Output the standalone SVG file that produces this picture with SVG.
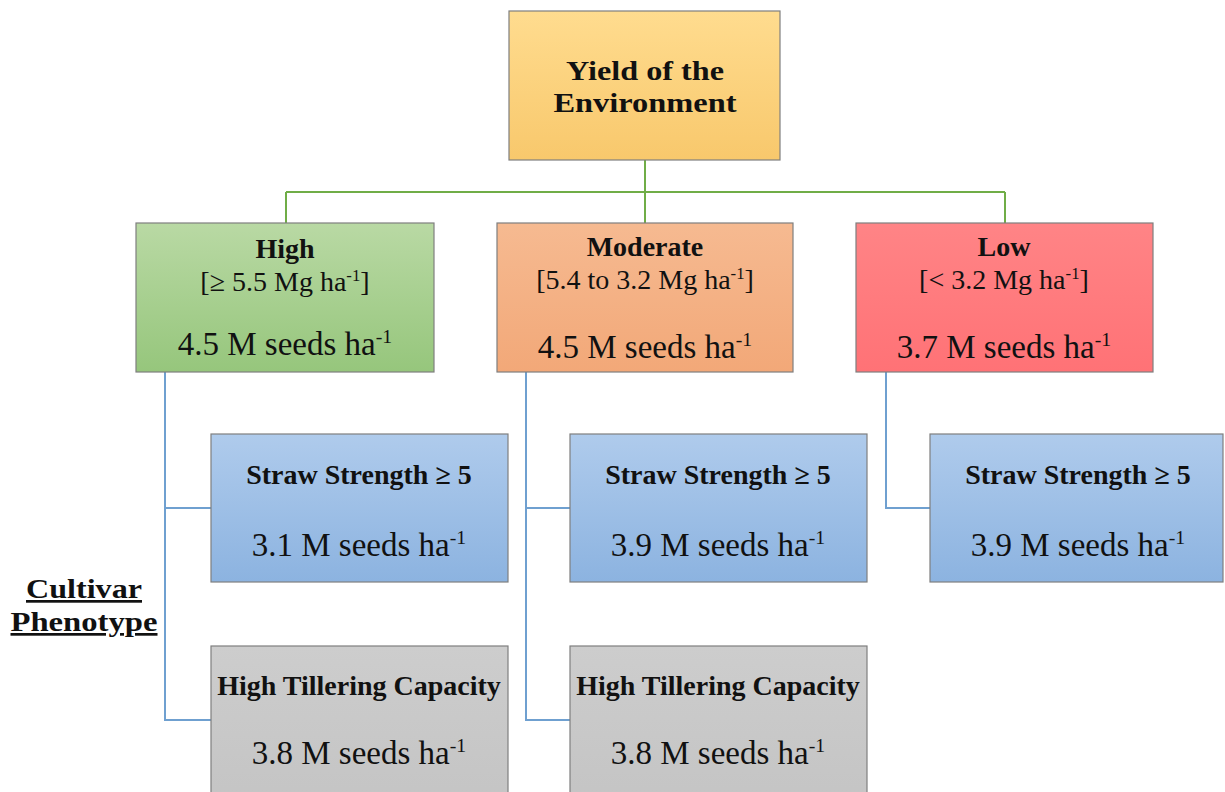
<svg xmlns="http://www.w3.org/2000/svg" width="1225" height="792" viewBox="0 0 1225 792">
<defs>
<linearGradient id="gOr" x1="0" y1="0" x2="0" y2="1"><stop offset="0" stop-color="#FFDC8F"/><stop offset="1" stop-color="#F8C86C"/></linearGradient>
<linearGradient id="gGr" x1="0" y1="0" x2="0" y2="1"><stop offset="0" stop-color="#B9D9A4"/><stop offset="1" stop-color="#96C67C"/></linearGradient>
<linearGradient id="gMo" x1="0" y1="0" x2="0" y2="1"><stop offset="0" stop-color="#F6BA91"/><stop offset="1" stop-color="#F2A878"/></linearGradient>
<linearGradient id="gLo" x1="0" y1="0" x2="0" y2="1"><stop offset="0" stop-color="#FF8486"/><stop offset="1" stop-color="#FF7276"/></linearGradient>
<linearGradient id="gBl" x1="0" y1="0" x2="0" y2="1"><stop offset="0" stop-color="#AFCBEC"/><stop offset="1" stop-color="#8CB3E0"/></linearGradient>
<linearGradient id="gGy" x1="0" y1="0" x2="0" y2="1"><stop offset="0" stop-color="#CDCDCD"/><stop offset="1" stop-color="#C4C4C4"/></linearGradient>
</defs>
<style>
.box{stroke:#7F7F7F;stroke-width:1.2}
.t{font-family:"Liberation Serif","Times New Roman",serif;fill:#111;text-anchor:middle}
.b{font-weight:bold}
.h{font-size:28px;font-weight:bold}
.r{font-size:28px}
.s{font-size:33px}
.gl{stroke:#70AD47;stroke-width:2;fill:none}
.bl{stroke:#6FA0D0;stroke-width:2;fill:none}
.sup{font-size:60%}
</style>
<rect width="1225" height="792" fill="#fff"/>
<g id="connectors">
<path class="gl" d="M645 160V223M286 192H1005M286 192V223M1005 192V223"/>
<path class="bl" d="M165 372V720H211M165 508H211"/>
<path class="bl" d="M526 372V720H570M526 508H570"/>
<path class="bl" d="M886 372V508H930"/>
</g>
<g id="node-yield">
<rect class="box" x="509" y="11" width="271" height="149" fill="url(#gOr)"/>
<text class="t b" x="645" y="80" font-size="28" textLength="158" lengthAdjust="spacingAndGlyphs">Yield of the</text>
<text class="t b" x="645" y="112" font-size="28" textLength="183" lengthAdjust="spacingAndGlyphs">Environment</text>
</g>
<g id="node-high">
<rect class="box" x="136" y="223" width="298" height="149" fill="url(#gGr)"/>
<text class="t h" x="285" y="258">High</text>
<text class="t r" x="285" y="291">[≥ 5.5 Mg ha<tspan class="sup" dy="-10">-1</tspan><tspan dy="10">]</tspan></text>
<text class="t s" x="285" y="355">4.5 M seeds ha<tspan class="sup" dy="-12">-1</tspan></text>
</g>
<g id="node-moderate">
<rect class="box" x="497" y="223" width="296" height="149" fill="url(#gMo)"/>
<text class="t h" x="645" y="256">Moderate</text>
<text class="t r" x="645" y="289">[5.4 to 3.2 Mg ha<tspan class="sup" dy="-10">-1</tspan><tspan dy="10">]</tspan></text>
<text class="t s" x="645" y="358">4.5 M seeds ha<tspan class="sup" dy="-12">-1</tspan></text>
</g>
<g id="node-low">
<rect class="box" x="856" y="223" width="297" height="149" fill="url(#gLo)"/>
<text class="t h" x="1004" y="256">Low</text>
<text class="t r" x="1004" y="289">[&lt; 3.2 Mg ha<tspan class="sup" dy="-10">-1</tspan><tspan dy="10">]</tspan></text>
<text class="t s" x="1004" y="358">3.7 M seeds ha<tspan class="sup" dy="-12">-1</tspan></text>
</g>
<g id="node-high-straw">
<rect class="box" x="211" y="434" width="297" height="148" fill="url(#gBl)"/>
<text class="t h" x="359" y="484">Straw Strength ≥ 5</text>
<text class="t s" x="359" y="556">3.1 M seeds ha<tspan class="sup" dy="-12">-1</tspan></text>
</g>
<g id="node-mod-straw">
<rect class="box" x="570" y="434" width="297" height="148" fill="url(#gBl)"/>
<text class="t h" x="718" y="484">Straw Strength ≥ 5</text>
<text class="t s" x="718" y="556">3.9 M seeds ha<tspan class="sup" dy="-12">-1</tspan></text>
</g>
<g id="node-low-straw">
<rect class="box" x="930" y="434" width="293" height="148" fill="url(#gBl)"/>
<text class="t h" x="1078" y="484">Straw Strength ≥ 5</text>
<text class="t s" x="1078" y="556">3.9 M seeds ha<tspan class="sup" dy="-12">-1</tspan></text>
</g>
<g id="node-high-till">
<rect class="box" x="211" y="646" width="297" height="160" fill="url(#gGy)"/>
<text class="t h" x="359" y="695">High Tillering Capacity</text>
<text class="t s" x="359" y="764">3.8 M seeds ha<tspan class="sup" dy="-12">-1</tspan></text>
</g>
<g id="node-mod-till">
<rect class="box" x="570" y="646" width="297" height="160" fill="url(#gGy)"/>
<text class="t h" x="718" y="695">High Tillering Capacity</text>
<text class="t s" x="718" y="764">3.8 M seeds ha<tspan class="sup" dy="-12">-1</tspan></text>
</g>
<g id="label-cultivar">
<text class="t b" x="84" y="598" font-size="27" text-decoration="underline" textLength="116" lengthAdjust="spacingAndGlyphs">Cultivar</text>
<text class="t b" x="84" y="631" font-size="27" text-decoration="underline" textLength="147" lengthAdjust="spacingAndGlyphs">Phenotype</text>
</g>
</svg>
